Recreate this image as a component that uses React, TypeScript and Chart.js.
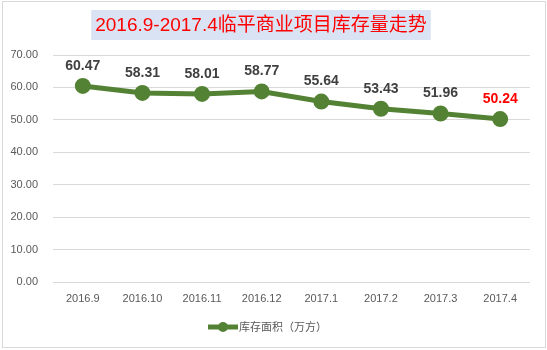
import React, { useEffect, useRef } from "react";
import { Chart, registerables } from "chart.js";

Chart.register(...registerables);

const categories = ["2016.9", "2016.10", "2016.11", "2016.12", "2017.1", "2017.2", "2017.3", "2017.4"];
const inventory = [60.47, 58.31, 58.01, 58.77, 55.64, 53.43, 51.96, 50.24];
const seriesName = "库存面积（万方）";
const titleText = "2016.9-2017.4临平商业项目库存量走势";

const GREEN = "#548235";
const CJK = "'Liberation Sans', 'Noto Sans CJK SC', sans-serif";

const decorPlugin = {
  id: "decor",
  beforeDraw(chart: any) {
    const { ctx, width, height } = chart;
    ctx.save();
    ctx.fillStyle = "#ffffff";
    ctx.fillRect(0, 0, width, height);
    ctx.strokeStyle = "#d9d9d9";
    ctx.lineWidth = 1;
    ctx.strokeRect(2.5, 1.5, 543, 346);
    ctx.restore();
  },
  afterDraw(chart: any) {
    const { ctx } = chart;
    ctx.save();
    // title
    ctx.font = `19px ${CJK}`;
    const tw = ctx.measureText(titleText).width;
    const cx = 261;
    const cy = 25;
    ctx.fillStyle = "#dae3f3";
    ctx.fillRect(cx - tw / 2 - 4, 10, tw + 8, 30);
    ctx.fillStyle = "#ff0000";
    ctx.textAlign = "center";
    ctx.textBaseline = "middle";
    ctx.fillText(titleText, cx, cy + 1);

    // data labels
    const meta = chart.getDatasetMeta(0);
    ctx.font = `bold 14px ${CJK}`;
    meta.data.forEach((pt: any, i: number) => {
      const v = chart.data.datasets[0].data[i] as number;
      ctx.fillStyle = i === meta.data.length - 1 ? "#ff0000" : "#404040";
      ctx.fillText(v.toFixed(2), pt.x, pt.y - 20);
    });

    // legend
    const ly = 327;
    ctx.strokeStyle = GREEN;
    ctx.lineWidth = 5;
    ctx.beginPath();
    ctx.moveTo(208, ly);
    ctx.lineTo(238, ly);
    ctx.stroke();
    ctx.fillStyle = GREEN;
    ctx.beginPath();
    ctx.arc(223, ly, 5, 0, Math.PI * 2);
    ctx.fill();
    ctx.font = `11px ${CJK}`;
    ctx.fillStyle = "#595959";
    ctx.textAlign = "left";
    ctx.fillText(seriesName, 239, ly + 1);
    ctx.restore();
  },
};

export default function App() {
  const ref = useRef<HTMLCanvasElement>(null);
  useEffect(() => {
    document.body.style.margin = "0";
    const chart = new Chart(ref.current!, {
      type: "line",
      data: {
        labels: categories,
        datasets: [
          {
            label: seriesName,
            data: inventory,
            borderColor: GREEN,
            backgroundColor: GREEN,
            borderWidth: 5,
            pointRadius: 5.5,
            pointBackgroundColor: GREEN,
            pointBorderColor: GREEN,
            tension: 0,
          },
        ],
      },
      options: {
        animation: false,
        responsive: false,
        devicePixelRatio: 1,
        layout: { padding: { left: 0, right: 17, top: 55, bottom: 38 } },
        plugins: {
          legend: { display: false },
          title: { display: false },
          tooltip: { enabled: false },
        },
        scales: {
          x: {
            offset: true,
            grid: { display: false, drawTicks: false },
            border: { display: false },
            ticks: { color: "#595959", font: { size: 11, family: CJK }, padding: 10, maxRotation: 0 },
            afterFit: (axis: any) => {
              axis.height = 30;
            },
          },
          y: {
            min: 0,
            max: 70,
            grid: { color: "#d9d9d9", drawTicks: false },
            border: { display: false },
            ticks: {
              stepSize: 10,
              color: "#595959",
              font: { size: 11, family: CJK },
              padding: 15,
              callback: (v: any) => Number(v).toFixed(2),
            },
            afterFit: (axis: any) => {
              axis.width = 53;
            },
          },
        },
      },
      plugins: [decorPlugin],
    });
    return () => chart.destroy();
  }, []);
  return (
    <div style={{ position: "absolute", left: 0, top: 0, width: 547, height: 350 }}>
      <canvas ref={ref} width={547} height={350} style={{ width: 547, height: 350 }} />
    </div>
  );
}
